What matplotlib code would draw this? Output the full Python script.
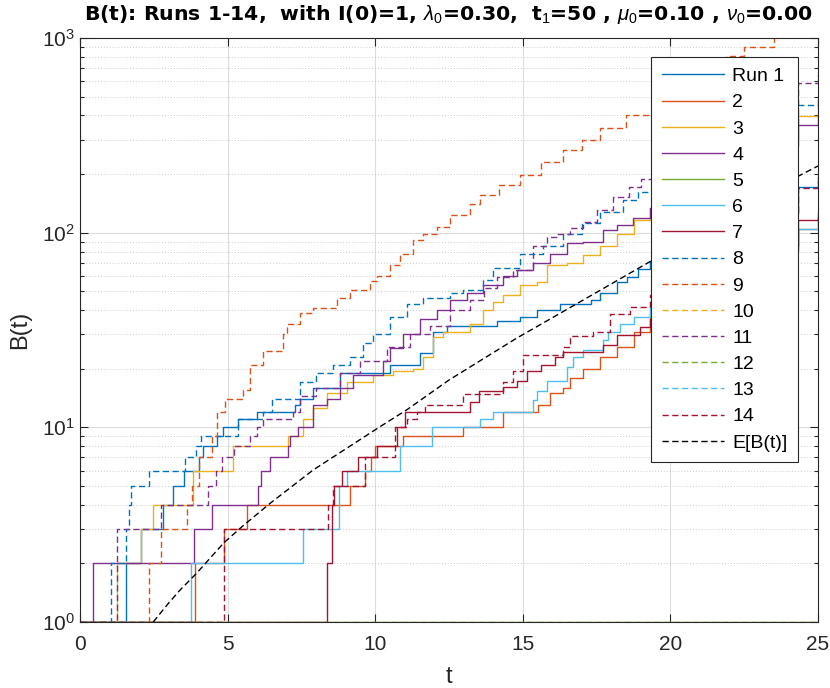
import numpy as np
import matplotlib
matplotlib.use('Agg')
import matplotlib.pyplot as plt
from matplotlib.ticker import LogLocator, NullFormatter

plt.rcParams['font.family'] = ['Liberation Sans', 'DejaVu Sans']
plt.rcParams['mathtext.fontset'] = 'custom'
plt.rcParams['mathtext.rm'] = 'Liberation Sans'
plt.rcParams['mathtext.it'] = 'Liberation Sans:italic'
plt.rcParams['mathtext.bf'] = 'Liberation Sans:bold'

# jump times (t) and B values after each jump
run1_t = [0, 1.55, 2.07, 2.82, 3.16, 3.52, 4.03, 4.18, 4.63, 4.83, 5.36, 6.0, 7.28, 7.45, 7.9, 8.81,
          10.5, 11.52, 11.97, 12.42, 14.11, 14.91, 15.47, 16.26, 17.3, 17.62, 18.18, 18.52, 18.9, 19.31,
          21.0, 22.5, 24.33, 25]
run1_b = [1, 2, 3, 4, 5, 6, 7, 8, 9, 10, 11, 12, 13, 14, 16, 19,
          21, 24, 31, 33, 35, 37, 40, 43, 45, 49, 56, 59, 65, 71,
          95, 125, 172, 194]

run2_t = [0, 3.9, 4.89, 5.65, 9.15, 9.66, 9.85, 9.99, 10.95, 12.99, 14.34, 15.53, 15.92, 16.37, 16.6,
          17.05, 17.62, 18.18, 18.75, 19.31, 21.5, 23.0, 24.33, 25]
run2_b = [1, 2, 3, 4, 5, 6, 7, 8, 9, 10, 12, 13, 15, 16, 18,
          20, 23, 26, 31, 38, 60, 80, 105, 121]

run3_t = [0, 1.26, 2.07, 2.46, 3.84, 5.19, 7.06, 7.57, 7.9, 8.36, 9.03, 9.94, 10.61, 11.29, 11.63, 11.97,
          12.31, 13.21, 13.66, 14.0, 14.34, 14.9, 15.47, 15.81, 16.5, 17.05, 17.62, 18.18, 18.75, 19.31,
          21.0, 23.0, 24.33, 25]
run3_b = [1, 2, 3, 4, 6, 8, 9, 11, 12.5, 15, 17, 18.6, 19.5, 20, 23, 29,
          31, 34, 40, 44, 48, 54, 56, 68, 70, 77, 85, 98, 116, 134,
          200, 300, 398, 448]

run4_t = [0, 0.43, 3.86, 4.48, 6.04, 6.13, 6.44, 7.06, 7.12, 7.4, 7.9, 8.36, 8.81, 9.26, 10.28, 10.5, 10.95,
          11.52, 12.08, 12.53, 13.1, 13.66, 14.34, 14.79, 15.36, 15.92, 16.49, 17.05, 17.73, 18.18, 18.74,
          19.31, 21.0, 23.0, 24.33, 25]
run4_b = [1, 2, 3, 4, 5, 6, 7, 8, 9, 10, 13, 14, 16, 18.5, 22, 25.7, 30,
          36, 40, 45, 49, 54, 60, 64, 70, 78, 88, 90, 103, 109, 119,
          134, 190, 280, 357, 402]

run5_t = [0, 25]
run5_b = [1, 1]

run6_t = [0, 3.76, 7.57, 8.79, 9.03, 10.84, 11.91, 13.55, 14.0, 15.36, 15.47, 15.81, 16.49, 16.71, 17.05,
          17.73, 17.9, 18.3, 18.75, 19.31, 21.5, 23.0, 24.33, 25]
run6_b = [1, 2, 3, 5, 6, 8, 10, 11, 12, 13.8, 15.3, 17.2, 20.5, 23, 25,
          28, 31, 34, 37, 43.5, 62, 82, 104, 119]

run7_t = [0, 8.36, 8.53, 8.6, 8.86, 9.43, 10.05, 10.73, 11.0, 13.21, 13.5, 14.34, 14.79, 15.13, 15.6,
          16.1, 16.37, 17.73, 18.18, 18.97, 19.31, 21.5, 23.0, 24.33, 25]
run7_b = [1, 2, 4, 5, 6, 7, 8, 10, 12, 13.5, 15.3, 16.2, 17.2, 19.5, 21,
          23, 24.5, 26.4, 29.8, 32.8, 36, 60, 85, 116, 126]

run8_t = [0, 1.05, 1.55, 1.67, 1.73, 2.34, 3.56, 3.93, 4.09, 5.36, 6.2, 6.49, 7.45, 8.0, 8.58, 9.15, 9.6,
          9.94, 10.5, 11.07, 11.63, 12.53, 12.99, 13.66, 14.0, 14.9, 15.7, 16.37, 17.0, 17.6, 18.4, 18.9,
          19.37, 21.0, 23.0, 24.33, 25]
run8_b = [1, 2, 3, 4, 5, 6, 7, 8, 9, 11, 12, 14, 17, 19, 21, 23, 27,
          30, 37, 43, 46, 49, 51, 57, 66, 78, 85, 99, 112, 128, 147, 162,
          178, 250, 360, 453, 504]

run9_t = [0, 2.34, 2.74, 3.61, 3.78, 4.03, 4.46, 4.63, 4.91, 5.53, 5.76, 6.21, 6.89, 7.0, 7.45, 7.9, 8.7,
          9.15, 9.82, 10.05, 10.5, 10.84, 11.29, 11.63, 12.08, 12.53, 13.21, 13.55, 14.2, 14.91, 15.6,
          16.37, 17.0, 17.62, 18.5, 19.37, 20.5, 21.9, 22.5, 23.5]
run9_b = [1, 2, 3, 4, 5, 7, 9, 12, 14, 15.5, 21, 24.6, 30, 34, 38.6, 41, 46,
          51, 56.5, 60, 68, 78, 92, 99, 107, 123, 140, 156, 175, 198, 230,
          266, 300, 344, 400, 476, 620, 808, 900, 1100]

run10_t = [0, 25]
run10_b = [0, 0]

run11_t = [0, 1.24, 2.74, 4.33, 4.62, 4.8, 5.2, 5.76, 6.0, 6.2, 7.23, 7.45, 8.0, 8.81, 9.49, 10.39, 11.18,
           11.86, 12.53, 13.21, 13.7, 14.11, 14.68, 15.36, 15.81, 16.15, 16.6, 17.05, 17.5, 18.07, 18.6,
           19.0, 19.37, 21.0, 23.0, 24.33, 25]
run11_b = [1, 3, 4, 5, 6, 7, 8, 9, 10, 11, 12, 14.5, 16, 19, 22, 26, 30,
           33, 40, 45, 52, 59, 64, 85, 95, 99, 106, 114, 130, 153, 172,
           188, 200, 300, 450, 589, 645]

run12_t = [0, 25]
run12_b = [1, 1]

run13_t = [0, 25]
run13_b = [0, 0]

run14_t = [0, 4.88, 8.41, 8.58, 9.66, 10.67, 11.07, 11.4, 11.7, 12.99, 14.34, 14.68, 15.02, 16.37, 16.6,
           17.39, 17.95, 18.63, 19.31, 21.5, 23.0, 24.33, 25]
run14_b = [1, 3, 4, 5, 7, 10, 11, 12, 13, 14.8, 17, 19.4, 23.6, 25.8, 29.6,
           31, 38, 41.5, 48, 85, 125, 169, 185]

# expected value curve
eb_t = [2.48, 3.0, 3.39, 3.95, 4.86, 5.5, 6.44, 7.9, 10.16, 11.07, 12.5, 14.79, 16.26, 19.31, 24.33, 25]
eb_b = [1.0, 1.25, 1.46, 1.78, 2.54, 3.1, 4.07, 6.04, 10.07, 12.3, 17.5, 28.7, 38.5, 71, 195, 220]

runs_t = [run1_t, run2_t, run3_t, run4_t, run5_t, run6_t, run7_t,
          run8_t, run9_t, run10_t, run11_t, run12_t, run13_t, run14_t]
runs_b = [run1_b, run2_b, run3_b, run4_b, run5_b, run6_b, run7_b,
          run8_b, run9_b, run10_b, run11_b, run12_b, run13_b, run14_b]
labels = ['Run 1'] + [str(i) for i in range(2, 15)]

colors = ['#0072BD', '#D95319', '#EDB120', '#7E2F8E', '#77AC30', '#4DBEEE', '#A2142F']
dash = (0, (4.5, 2.5))
txt = '#262626'

fig = plt.figure(figsize=(8.3, 6.88), dpi=100)
ax = fig.add_axes([80 / 830, 1 - 622 / 688, 738 / 830, 584 / 688])
ax.set_yscale('log', nonpositive='mask')

for i in range(14):
    ls = '-' if i < 7 else dash
    ax.plot(runs_t[i], runs_b[i], drawstyle='steps-post', color=colors[i % 7],
            lw=1.0, ls=ls, label=labels[i])
ax.plot(eb_t, eb_b, color='k', lw=1.0, ls=dash, label='E[B(t)]')

ax.set_xlim(0, 25)
ax.set_ylim(1, 1000)
ax.set_xticks([0, 5, 10, 15, 20, 25])
ax.yaxis.set_major_locator(LogLocator(base=10, numticks=10))
ax.yaxis.set_minor_locator(LogLocator(base=10, subs=np.arange(2, 10), numticks=20))
ax.yaxis.set_minor_formatter(NullFormatter())

ax.grid(True, which='major', color='#dcdcdc', lw=0.8, ls='-')
ax.grid(True, which='minor', axis='y', color='#cccccc', lw=0.7, ls=(0, (1, 2)))
ax.set_axisbelow(True)

ax.tick_params(which='both', direction='in', top=True, right=True, colors=txt,
               labelcolor=txt, labelsize=15, width=0.8)
ax.tick_params(which='major', length=6)
ax.tick_params(which='minor', length=3)
ax.tick_params(axis='x', pad=9)
for s in ax.spines.values():
    s.set_color(txt)
    s.set_linewidth(0.8)

ax.set_xlabel('t', fontsize=17, color=txt, labelpad=9)
ax.set_ylabel('B(t)', fontsize=17, color=txt, labelpad=8)
ax.set_title(r'B(t): Runs 1-14,  with I(0)=1, $\lambda_0$=0.30,  t$_1$=50 , $\mu_0$=0.10 , $\nu_0$=0.00',
             fontsize=14.7, fontweight='bold', family='DejaVu Sans', pad=13)

leg = ax.legend(loc='upper right', bbox_to_anchor=((798 - 80) / 738, 0.9675),
                prop={'size': 14},
                fancybox=False, framealpha=1, edgecolor=txt, handlelength=3.2,
                labelspacing=0.44, borderaxespad=0, handletextpad=0.4, borderpad=0.55)
leg.get_frame().set_linewidth(0.8)

fig.savefig('out.png', dpi=100)
